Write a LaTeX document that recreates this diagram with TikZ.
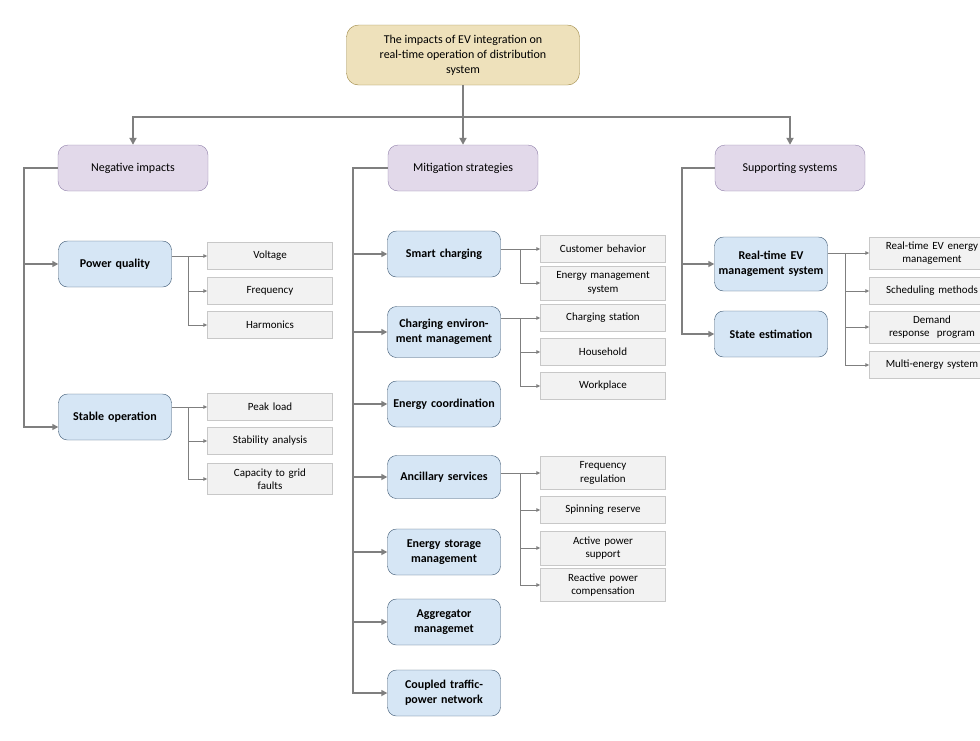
\documentclass[tikz,border=0pt]{standalone}
\usepackage{fontspec}
\setmainfont{Carlito}
\usetikzlibrary{arrows.meta}

\definecolor{rootfill}{HTML}{EEE1BB}
\definecolor{rootline}{HTML}{9A8440}
\definecolor{groupfill}{HTML}{E2D9EA}
\definecolor{groupline}{HTML}{9080AA}
\definecolor{itemfill}{HTML}{D6E6F5}
\definecolor{itemline}{HTML}{3A5570}
\definecolor{leaffill}{HTML}{F2F2F2}
\definecolor{leafline}{HTML}{C8C8C8}
\definecolor{wire}{HTML}{7F7F7F}

\tikzset{
  rootbox/.style={draw=rootline,fill=rootfill,rounded corners=12pt,minimum width=233pt,minimum height=60pt,align=center,font=\fontsize{12}{15}\selectfont,inner sep=2pt},
  groupbox/.style={draw=groupline,fill=groupfill,rounded corners=10pt,minimum width=150pt,minimum height=46pt,font=\fontsize{12}{15}\selectfont},
  itembox/.style={draw=itemline,fill=itemfill,rounded corners=9pt,text width=105pt,minimum width=113pt,minimum height=46pt,align=center,font=\bfseries\fontsize{12}{15}\selectfont,inner sep=2pt},
  leafbox/.style={draw=leafline,fill=leaffill,text width=122pt,minimum width=125pt,minimum height=27pt,align=center,font=\fontsize{11}{13.5}\selectfont,inner sep=1pt},
  main/.style={draw=wire,line width=2.2pt,-{Triangle[length=7pt,width=7pt]}},
  trunk/.style={draw=wire,line width=1.8pt,-{Triangle[length=6pt,width=6pt]}},
  sub/.style={draw=wire,line width=0.9pt,-{Triangle[length=4pt,width=3.5pt]}}
}

\begin{document}
\begin{tikzpicture}[x=1pt,y=-1pt]
    \useasboundingbox (0,0) rectangle (980,740);
    \clip (0,0) rectangle (980,740);

    % top levels
    \node[rootbox] (root) at (463,55) {The impacts of EV integration on\\real-time operation of distribution\\system};
    \node[groupbox] (neg) at (133,168) {Negative impacts};
    \node[groupbox] (mit) at (463,168) {Mitigation strategies};
    \node[groupbox] (sup) at (790,168) {Supporting systems};

    \coordinate (bus) at (463,117);
    \draw[draw=wire,line width=2.2pt] (root.south) -- (bus);
    \draw[main] (bus) -- (mit.north);
    \draw[main] (bus) -| (neg.north);
    \draw[main] (bus) -| (sup.north);

    % negative impacts
    \node[itembox] (pq) at (115,264) {Power quality};
    \node[itembox] (so) at (115,417) {Stable operation};
    \coordinate (negbus) at (24,168);
    \draw[draw=wire,line width=1.8pt] (neg.west) -- (negbus) -- (24,407);
    \draw[trunk] (negbus) |- (pq.west);
    \draw[trunk] (negbus) |- ([yshift=-10pt]so.west);

    \node[leafbox] (volt) at (270,256) {Voltage};
    \node[leafbox] (freq) at (270,291) {Frequency};
    \node[leafbox] (harm) at (270,325) {Harmonics};
    \draw[sub] (pq.east |- volt.west) -- (volt.west);
    \foreach \n in {freq,harm}
      \draw[sub] ([xshift=17pt]pq.east |- volt.west) |- (\n.west);

    \node[leafbox] (peak) at (270,407) {Peak load};
    \node[leafbox] (stab) at (270,441) {Stability analysis};
    \node[leafbox,minimum height=31pt] (capa) at (270,479) {Capacity to grid\\faults};
    \draw[sub] (so.east |- peak.west) -- (peak.west);
    \foreach \n in {stab,capa}
      \draw[sub] ([xshift=17pt]so.east |- peak.west) |- (\n.west);

    % mitigation strategies
    \node[itembox] (smart) at (444,254) {Smart charging};
    \node[itembox,minimum height=51pt] (env) at (444,332) {Charging environment management};
    \node[itembox] (coord) at (444,404) {Energy coordination};
    \node[itembox,minimum height=43pt] (anc) at (444,477) {Ancillary services};
    \node[itembox] (stor) at (444,552) {Energy storage management};
    \node[itembox] (aggr) at (444,622) {Aggregator managemet};
    \node[itembox] (coup) at (444,693) {Coupled traffic-power network};
    \coordinate (mitbus) at (353,168);
    \draw[draw=wire,line width=1.8pt] (mit.west) -- (mitbus) -- (353,693);
    \foreach \n in {smart,env,coord,anc,stor,aggr,coup}
      \draw[trunk] (mitbus) |- (\n.west);

    \node[leafbox] (cust) at (603,249) {Customer behavior};
    \node[leafbox,minimum height=34pt] (ems) at (603,283) {Energy management\\system};
    \draw[sub] (smart.east |- cust.west) -- (cust.west);
    \draw[sub] ([xshift=20pt]smart.east |- cust.west) |- (ems.west);

    \node[leafbox] (cst) at (603,318) {Charging station};
    \node[leafbox] (home) at (603,352) {Household};
    \node[leafbox] (work) at (603,386) {Workplace};
    \draw[sub] (env.east |- cst.west) -- (cst.west);
    \foreach \n in {home,work}
      \draw[sub] ([xshift=20pt]env.east |- cst.west) |- (\n.west);

    \node[leafbox,minimum height=33pt] (freg) at (603,473) {Frequency\\regulation};
    \node[leafbox] (spin) at (603,510) {Spinning reserve};
    \node[leafbox,minimum height=34pt] (act) at (603,548) {Active power\\support};
    \node[leafbox,minimum height=33pt] (react) at (603,585) {Reactive power\\compensation};
    \draw[sub] (anc.east |- freg.west) -- (freg.west);
    \foreach \n in {spin,act,react}
      \draw[sub] ([xshift=20pt]anc.east |- freg.west) |- (\n.west);

    % supporting systems
    \node[itembox,minimum height=54pt] (rtev) at (771,264) {Real-time EV management system};
    \node[itembox] (state) at (771,334) {State estimation};
    \coordinate (supbus) at (682,168);
    \draw[draw=wire,line width=1.8pt] (sup.west) -- (supbus) -- (682,334);
    \draw[trunk] (supbus) |- (rtev.west);
    \draw[trunk] (supbus) |- (state.west);

    \node[leafbox,minimum height=32pt] (rtem) at (932,253) {Real-time EV energy\\management};
    \node[leafbox] (sched) at (932,291) {Scheduling methods};
    \node[leafbox,minimum height=32pt] (dem) at (932,327) {Demand\\response~~program};
    \node[leafbox] (multi) at (932,365) {Multi-energy system};
    \draw[sub] (rtev.east |- rtem.west) -- (rtem.west);
    \foreach \n in {sched,dem,multi}
      \draw[sub] ([xshift=18pt]rtev.east |- rtem.west) |- (\n.west);

\end{tikzpicture}
\end{document}
